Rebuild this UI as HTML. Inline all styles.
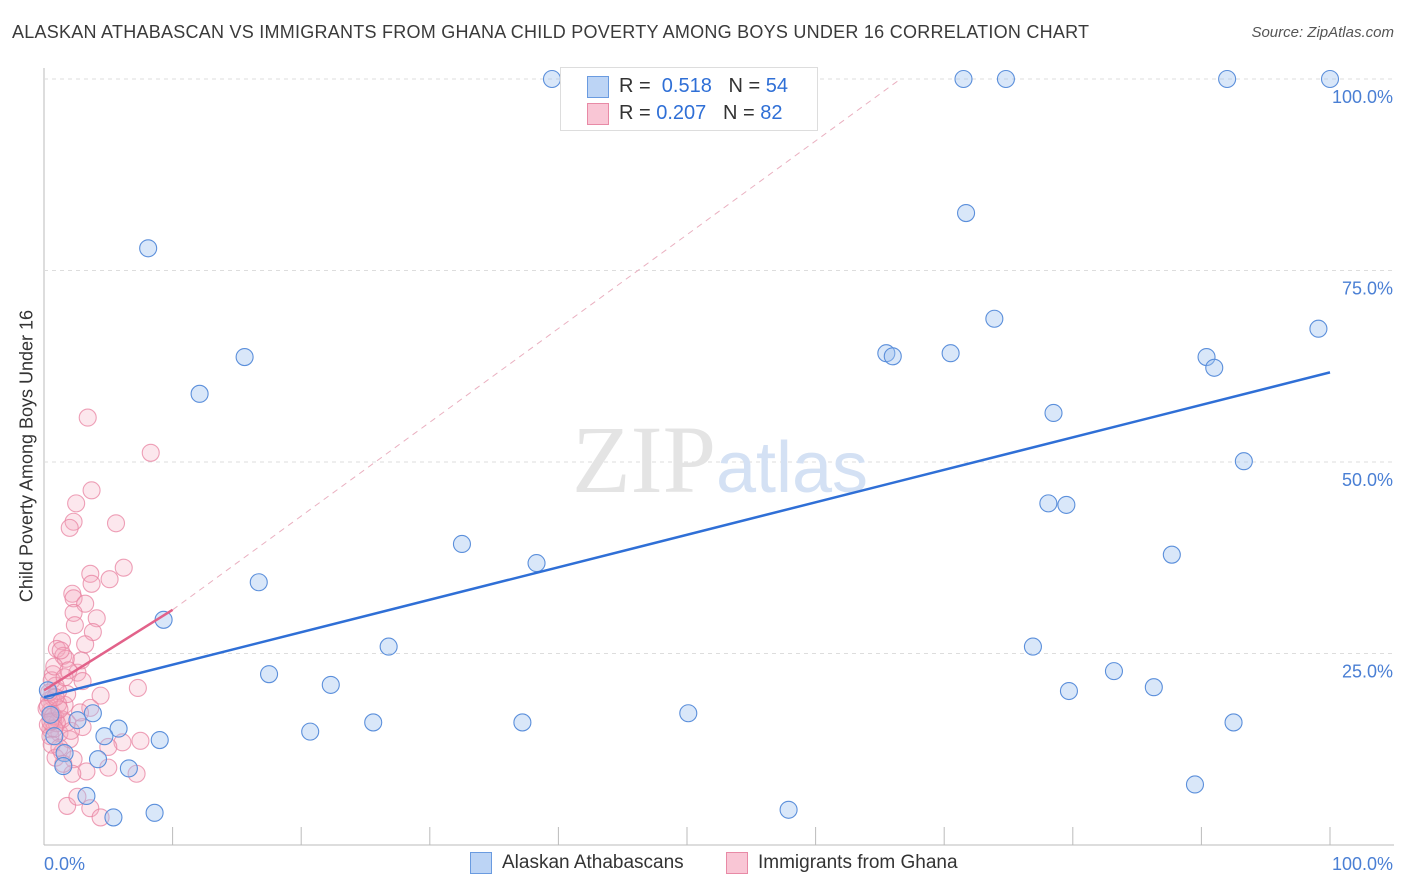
<!DOCTYPE html>
<html><head><meta charset="utf-8"><style>
body{margin:0;background:#fff;font-family:"Liberation Sans",sans-serif;}
#wrap{position:relative;width:1406px;height:892px;overflow:hidden;}
.t{position:absolute;white-space:nowrap;}
</style></head><body>
<div id="wrap">
<div class="t" style="left:12px;top:22px;font-size:18px;letter-spacing:0.25px;color:#3a3a3a;">ALASKAN ATHABASCAN VS IMMIGRANTS FROM GHANA CHILD POVERTY AMONG BOYS UNDER 16 CORRELATION CHART</div>
<div class="t" style="right:12px;top:24px;font-size:15px;color:#555;font-style:italic;">Source: ZipAtlas.com</div>
<div class="t" style="left:27px;top:456px;font-size:18px;color:#333;transform:translate(-50%,-50%) rotate(-90deg);">Child Poverty Among Boys Under 16</div>
<svg id="svg" width="1406" height="892" style="position:absolute;left:0;top:0"></svg>
</div>
<script>
const yTicks=[25,50,75,100];
const xTickLabels=["0.0%","100.0%"];
const blueX=[39.5,71.5,74.8,92,100,71.7,8.1,73.9,99.1,15.6,65.5,66,70.5,90.4,91,12.1,78.5,93.3,78.1,79.5,32.5,38.3,87.7,16.7,9.3,26.8,76.9,83.2,17.5,22.3,86.3,79.7,0.3,50.1,3.8,25.6,37.2,92.5,20.7,5.8,4.7,9,1.6,4.2,1.5,6.6,89.5,3.3,5.4,8.6,57.9,0.8,0.5,2.6];
const blueY=[100,100,100,100,100,82.5,77.9,68.7,67.4,63.7,64.2,63.8,64.2,63.7,62.3,58.9,56.4,50.1,44.6,44.4,39.3,36.8,37.9,34.3,29.4,25.9,25.9,22.7,22.3,20.9,20.6,20.1,20.2,17.2,17.2,16,16,16,14.8,15.2,14.2,13.7,12,11.2,10.3,10,7.9,6.4,3.6,4.2,4.6,14.2,17,16.3];
const pinkX=[3.4,8.3,3.7,2.5,2.3,2,5.6,6.2,3.6,5.1,3.7,2.2,2.3,3.2,2.3,4.1,2.4,3.8,3.2,1.4,1,1.5,1.7,2.6,0.7,3,7.3,4.4,0.7,1.6,3.6,0.5,0.9,1.8,3,0.5,6.1,5,7.5,1.4,2.3,3.3,2.2,5,7.2,1.8,2.6,3.6,4.4,0.7,0.6,1.1,0.9,0.3,1.2,2,1.4,0.4,0.6,0.8,1.3,1.8,0.2,0.5,1,2.8,1.1,0.6,0.9,1.5,0.3,0.7,2.1,1.9,0.4,0.8,1.2,1.6,0.5,2.9,1.2,0.9];
const pinkY=[55.8,51.2,46.3,44.6,42.2,41.4,42,36.2,35.4,34.7,34.1,32.8,32.2,31.5,30.3,29.6,28.7,27.8,26.2,26.6,25.6,24.7,24.3,22.5,22.3,21.4,20.5,19.5,19.2,18.3,17.9,17.5,16.6,16,15.4,15.1,13.4,12.8,13.6,12.1,11.2,9.6,9.3,10.1,9.3,5.1,6.3,4.8,3.6,16.2,17.1,18.4,20.8,15.7,14.6,13.8,16.4,18.9,21.5,23.3,25.4,19.7,17.8,14.2,15.9,17.3,20.1,13.1,11.4,10.6,18.1,16.8,14.9,22.8,19.9,15.2,12.7,21.9,16.1,24.1,17.7,19.3];
const blueTrend=[19.3,61.7];
const pinkTrend=[20.2,30.7];
const pinkExtendEnd=[66.6,100];
const X0=44,X1=1330,Y0=845,Y100=79;
const xs=v=>X0+(X1-X0)*v/100, ys=v=>Y0-(Y0-Y100)*v/100;
const svg=document.getElementById('svg');const NS='http://www.w3.org/2000/svg';
function mk(tag,at,name){const e=document.createElementNS(NS,tag);for(const k in at)e.setAttribute(k,at[k]);


svg.appendChild(e);return e;}
mk('line',{x1:44,y1:68,x2:44,y2:845,stroke:'#bbb','stroke-width':1},'y-axis-line');
mk('line',{x1:44,y1:845,x2:1394,y2:845,stroke:'#bbb','stroke-width':1},'x-axis-line');
for(let i=1;i<=10;i++){mk('line',{x1:xs(i*10),y1:827,x2:xs(i*10),y2:845,stroke:'#bbb'},'x-tick');}
yTicks.forEach(v=>{mk('line',{x1:44,y1:ys(v),x2:1394,y2:ys(v),stroke:'#ddd','stroke-dasharray':'4,4'},'gridline');
const t=mk('text',{x:1393,y:ys(v)+24,'text-anchor':'end','font-size':18,fill:'#4a7fd4','font-family':'Liberation Sans'},'y-tick-label');t.textContent=v.toFixed(1)+'%';});
let t=mk('text',{x:44,y:870,'font-size':18,fill:'#4a7fd4','font-family':'Liberation Sans'},'x-tick-label');t.textContent=xTickLabels[0];
t=mk('text',{x:1393,y:870,'text-anchor':'end','font-size':18,fill:'#4a7fd4','font-family':'Liberation Sans'},'x-tick-label');t.textContent=xTickLabels[1];
t=mk('text',{x:720,y:492,'text-anchor':'middle','font-size':96,fill:'#e4e4e4','font-family':'Liberation Serif'},'watermark');t.innerHTML='ZIP<tspan fill="#d4e1f4" font-family="Liberation Sans" font-size="72">atlas</tspan>';
mk('line',{x1:xs(10),y1:ys(pinkTrend[1]),x2:xs(pinkExtendEnd[0]),y2:ys(pinkExtendEnd[1]),stroke:'#eab0c0','stroke-dasharray':'6,5','stroke-width':1},'pink-trend-extension');
pinkX.forEach((x,i)=>mk('circle',{cx:xs(x),cy:ys(pinkY[i]),r:8.5,fill:'rgba(246,170,192,0.28)',stroke:'rgba(232,130,160,0.75)','stroke-width':1.1},'pink-point'));
blueX.forEach((x,i)=>mk('circle',{cx:xs(x),cy:ys(blueY[i]),r:8.5,fill:'rgba(160,195,240,0.4)',stroke:'#5b8fdb','stroke-width':1.1},'blue-point'));
mk('line',{x1:xs(0),y1:ys(blueTrend[0]),x2:xs(100),y2:ys(blueTrend[1]),stroke:'#2f6fd6','stroke-width':2.5},'blue-trend-line');
mk('line',{x1:xs(0),y1:ys(pinkTrend[0]),x2:xs(10),y2:ys(pinkTrend[1]),stroke:'#e2628a','stroke-width':2.5},'pink-trend-line');
</script>
<div style="position:absolute;left:560px;top:67px;width:256px;height:62px;border:1px solid #ddd;background:#fff;font-size:20px;color:#333;">
 <div style="position:absolute;left:26px;top:8px;width:20px;height:20px;background:#bcd4f5;border:1px solid #6a9be0;"></div>
 <div class="t" style="left:58px;top:7px;">R = <span style="color:#2f6fd6">&nbsp;0.518</span>&nbsp;&nbsp;&nbsp;N = <span style="color:#2f6fd6">54</span></div>
 <div style="position:absolute;left:26px;top:35px;width:20px;height:20px;background:#f9c6d5;border:1px solid #e88aa6;"></div>
 <div class="t" style="left:58px;top:34px;">R = <span style="color:#2f6fd6">0.207</span>&nbsp;&nbsp;&nbsp;N = <span style="color:#2f6fd6">82</span></div>
</div>
<div style="position:absolute;left:470px;top:852px;font-size:19px;color:#333;">
 <div style="position:absolute;left:0;top:0;width:20px;height:20px;background:#bcd4f5;border:1px solid #6a9be0;"></div>
 <div class="t" style="left:32px;top:0px;">Alaskan Athabascans</div>
 <div style="position:absolute;left:256px;top:0;width:20px;height:20px;background:#f9c6d5;border:1px solid #e88aa6;"></div>
 <div class="t" style="left:288px;top:0px;">Immigrants from Ghana</div>
</div>
</body></html>
